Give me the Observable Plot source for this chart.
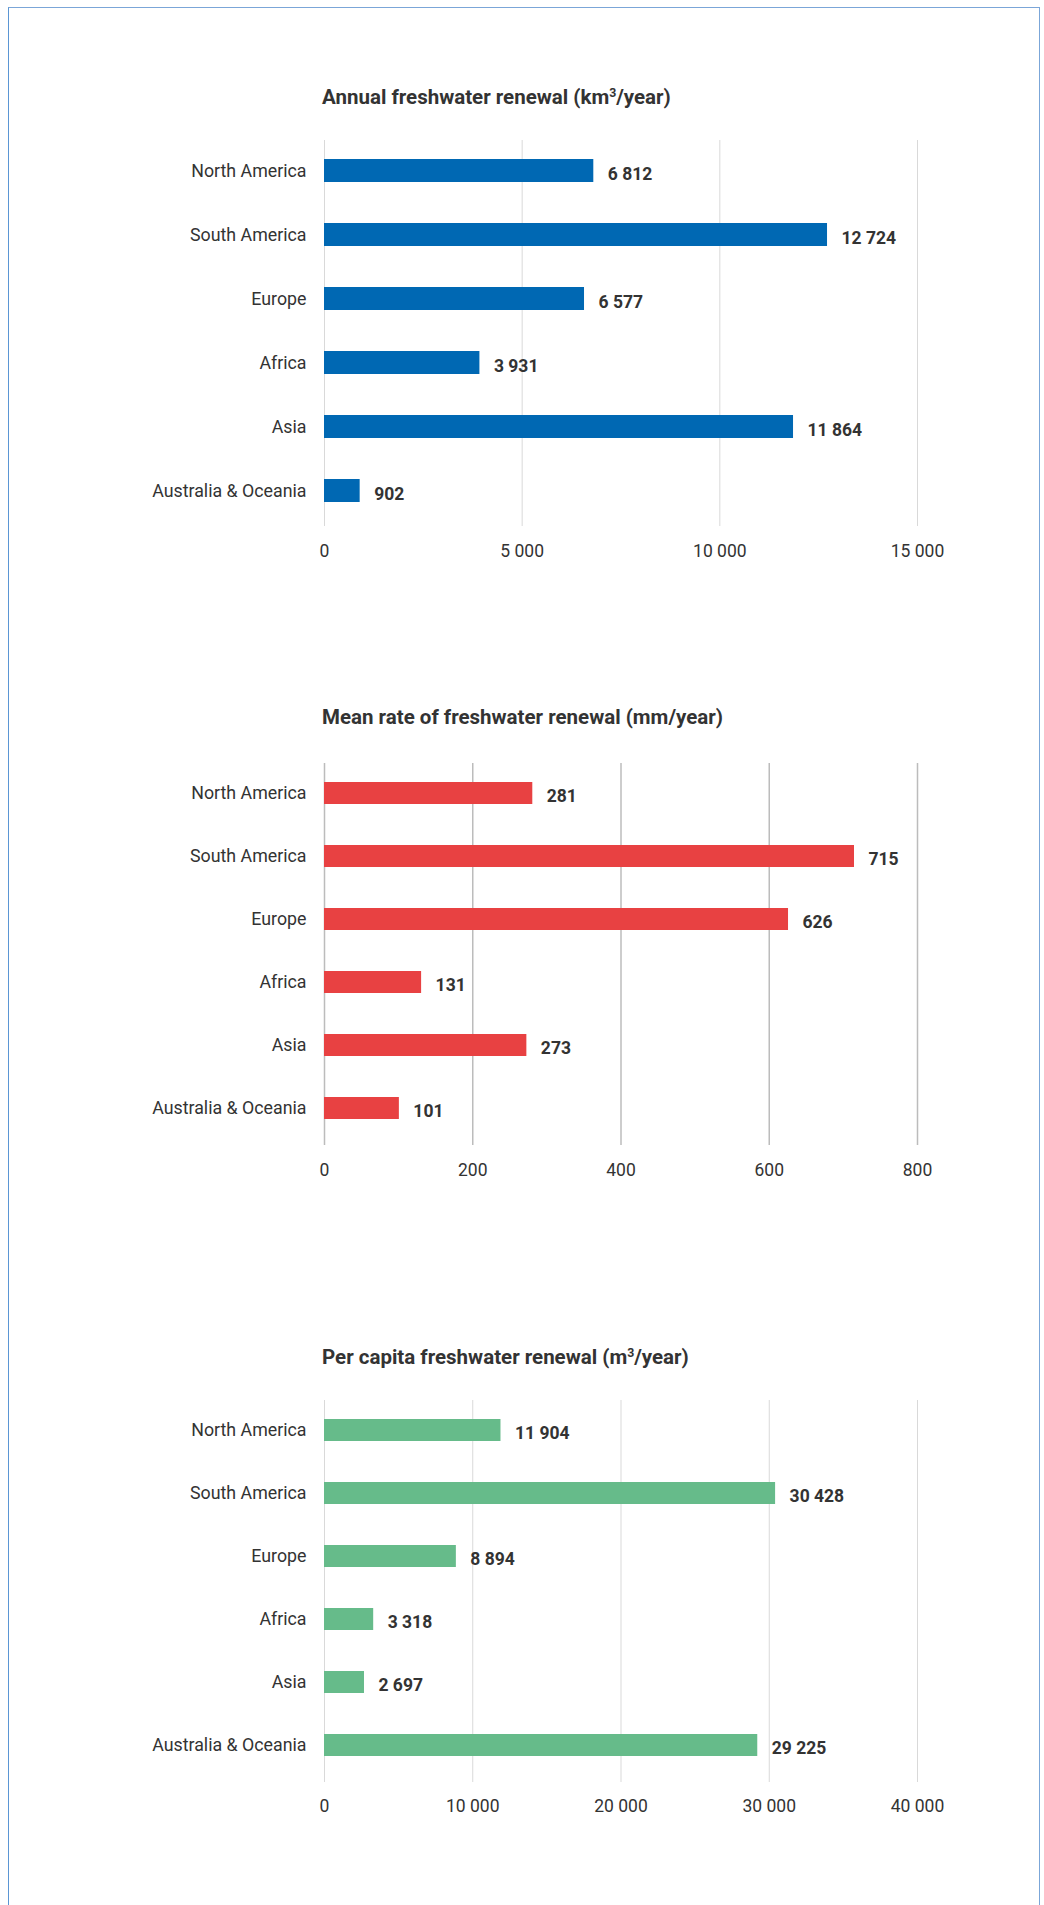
<!DOCTYPE html>
<html>
<head>
<meta charset="utf-8">
<script src="https://cdn.jsdelivr.net/npm/d3@7"></script>
<script src="https://cdn.jsdelivr.net/npm/@observablehq/plot@0.6"></script>
<style>
  html, body { margin: 0; padding: 0; background: #fff; overflow: hidden; width: 1044px; height: 1905px; }
  body { position: relative; font-family: Roboto, "Noto Sans", sans-serif; }
  #frame { position: absolute; left: 8px; top: 7px; width: 1032px; height: 2000px; box-sizing: border-box;
           border: 1.5px solid #7ba6d8; border-left-color: #5b96d4; }
  .title { position: absolute; left: 322px; font-family: Roboto, sans-serif; font-weight: 700; font-size: 20.5px;
           line-height: 22px; color: #333; white-space: nowrap; }
  .title sup { font-size: 0.6em; line-height: 0; vertical-align: 0.55em; }
  .chart { position: absolute; left: 0; }
</style>
</head>
<body>
<div id="frame"></div>
<script>
const categories = ["North America", "South America", "Europe", "Africa", "Asia", "Australia & Oceania"];

const annualRenewal = [6812, 12724, 6577, 3931, 11864, 902];          // km³/year
const meanRate = [281, 715, 626, 131, 273, 101];                       // mm/year
const perCapita = [11904, 30428, 8894, 3318, 2697, 29225];             // m³/year

const annualTicks = [0, 5000, 10000, 15000];
const meanTicks = [0, 200, 400, 600, 800];
const perCapitaTicks = [0, 10000, 20000, 30000, 40000];

const titles = [
  ["Annual freshwater renewal (km", "3", "/year)"],
  ["Mean rate of freshwater renewal (mm/year)", "", ""],
  ["Per capita freshwater renewal (m", "3", "/year)"]
];

const locale = d3.formatLocale({decimal: ".", thousands: " ", grouping: [3], currency: ["", ""]});
const fmt = locale.format(",d");

const charts = [
  {title: titles[0], values: annualRenewal, ticks: annualTicks, color: "#0068b3", grid: "#d9d9d9", gridW: 1, titleY: 86, svgTop: 130, pad: 18, align: 0.43, fh: 386},
  {title: titles[1], values: meanRate, ticks: meanTicks, color: "#e84142", grid: "#bcbcbc", gridW: 1.5, titleY: 706, svgTop: 753, pad: 18, align: 0.43, fh: 382},
  {title: titles[2], values: perCapita, ticks: perCapitaTicks, color: "#66bb8a", grid: "#d9d9d9", gridW: 1, titleY: 1346, svgTop: 1390, pad: 17, align: 0.43, fh: 382}
];

const W = 1044, ML = 324, MR = 1044 - 917, MT = 10, MB = 45;

for (const c of charts) {
  const t = document.createElement("div");
  t.className = "title";
  t.style.top = c.titleY + "px";
  t.appendChild(document.createTextNode(c.title[0]));
  if (c.title[1]) {
    const s = document.createElement("sup");
    s.textContent = c.title[1];
    t.appendChild(s);
  }
  if (c.title[2]) t.appendChild(document.createTextNode(c.title[2]));
  document.body.appendChild(t);

  const data = categories.map((name, i) => ({name, value: c.values[i]}));
  const p = Plot.plot({
    width: W,
    height: MT + c.fh + MB,
    marginLeft: ML,
    marginRight: MR,
    marginTop: MT,
    marginBottom: MB,
    style: {fontFamily: "Roboto, sans-serif", fontSize: "18px", color: "#333", background: "transparent"},
    x: {domain: [c.ticks[0], c.ticks[c.ticks.length - 1]], ticks: c.ticks, tickFormat: fmt, label: null},
    y: {domain: categories, paddingInner: 0.645, paddingOuter: 0.325, align: c.align, label: null},
    marks: [
      Plot.ruleX(c.ticks, {stroke: c.grid, strokeWidth: c.gridW, strokeOpacity: 1}),
      Plot.barX(data, {x: "value", y: "name", fill: c.color}),
      Plot.text(data, {x: "value", y: "name", text: d => fmt(d.value), textAnchor: "start", dx: 14, dy: 3,
                       fontWeight: "bold", fontSize: 17.5, fill: "#333"}),
      Plot.axisX({ticks: c.ticks, tickFormat: fmt, tickSize: 0, tickPadding: c.pad, fontSize: 17.5, fill: "#333", label: null}),
      Plot.axisY({tickSize: 0, tickPadding: 18, fontSize: 17.8, fill: "#333", label: null})
    ]
  });
  p.classList.add("chart");
  p.style.position = "absolute";
  p.style.top = c.svgTop + "px";
  p.style.left = "0px";
  document.body.appendChild(p);
}
</script>
</body>
</html>
